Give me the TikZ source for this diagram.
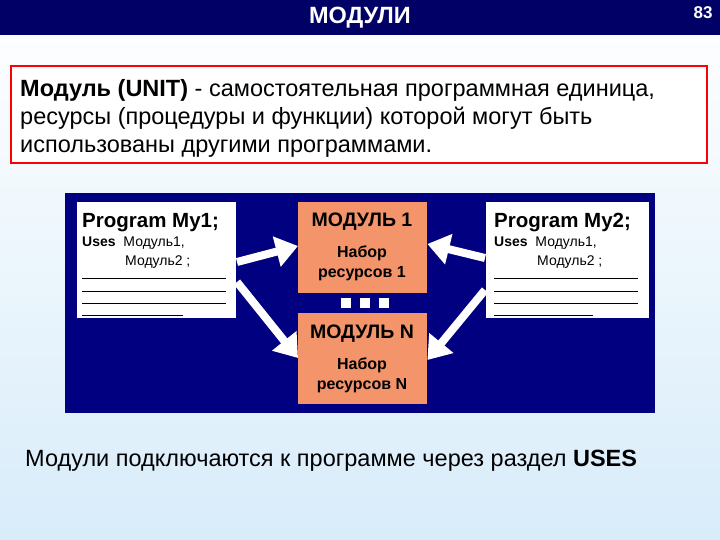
\documentclass[tikz,border=0pt]{standalone}
\usepackage{fontspec}
\setmainfont{Liberation Sans}
\usetikzlibrary{arrows.meta}
\definecolor{navy}{HTML}{000080}
\definecolor{bar}{HTML}{000066}
\definecolor{mod}{HTML}{F4946A}
\definecolor{bgb}{HTML}{D8ECFA}
\tikzset{
 prog/.style={fill=white,minimum width=159pt,minimum height=116pt,anchor=north west,inner sep=0},
 modbox/.style={fill=mod,minimum width=129pt,minimum height=91pt,anchor=north west,inner sep=0},
 big/.style={-{Triangle[length=22pt,width=30pt]},line width=8pt,white},
 t/.style={inner sep=0,anchor=base west},
 tc/.style={inner sep=0,anchor=base,font=\bfseries\fontsize{16}{18}\selectfont},
}
\begin{document}
\begin{tikzpicture}[x=1pt,y=-1pt]
\useasboundingbox (0,0) rectangle (720,540);
\shade[top color=white,bottom color=bgb] (0,0) rectangle (720,540);
\fill[bar] (0,0) rectangle (720,35);
\node[white,font=\bfseries\fontsize{23.5}{25}\selectfont] (title) at (360,18) {МОДУЛИ};
\node[white,font=\bfseries\fontsize{17}{19}\selectfont] (pg) at (703,13) {83};
\node[draw=red,line width=2pt,fill=white,minimum width=696pt,minimum height=97pt,anchor=north west] (def) at (10,65) {};
\node[t,font=\fontsize{23.5}{25}\selectfont] (l1) at (20,97) {\textbf{Модуль (UNIT)} - самостоятельная программная единица,};
\node[t,font=\fontsize{23.5}{25}\selectfont] (l2) at (20,125) {ресурсы (процедуры и функции) которой могут быть};
\node[t,font=\fontsize{23.5}{25}\selectfont] (l3) at (20,153) {использованы другими программами.};
\fill[navy] (65,193) rectangle (655,413);
\node[prog] (p1) at (77,202) {};
\node[prog,minimum width=163pt] (p2) at (486,202) {};
\node[modbox] (m1) at (298,202) {};
\node[modbox] (mn) at (298,313) {};
\foreach \x/\n in {341/a,360/b,379/c} \fill[white] (\x,298) rectangle +(10,10);
% program 1 text
\node[t,font=\bfseries\fontsize{20.5}{22}\selectfont] (p1t) at (82,227) {Program My1;};
\node[t,font=\fontsize{14}{16}\selectfont] (p1u) at (82,247) {\textbf{Uses}\ \ Модуль1,};
\node[t,font=\fontsize{14}{16}\selectfont] (p1v) at (125,265) {Модуль2 ;};
\foreach \y in {278,291,303} \draw (82,\y) -- (226,\y);
\draw (82,315) -- (183,315);
\node[t,font=\bfseries\fontsize{20.5}{22}\selectfont] (p2t) at (494,227) {Program My2;};
\node[t,font=\fontsize{14}{16}\selectfont] (p2u) at (494,247) {\textbf{Uses}\ \ Модуль1,};
\node[t,font=\fontsize{14}{16}\selectfont] (p2v) at (537,265) {Модуль2 ;};
\foreach \y in {278,291,303} \draw (494,\y) -- (638,\y);
\draw (494,315) -- (593,315);
% modules text
\node[tc,font=\bfseries\fontsize{19.5}{21}\selectfont] (m1t) at (362,226) {МОДУЛЬ 1};
\node[tc] (m1a) at (362,257) {Набор};
\node[tc] (m1b) at (362,277) {ресурсов 1};
\node[tc,font=\bfseries\fontsize{19.5}{21}\selectfont] (mnt) at (362,338) {МОДУЛЬ N};
\node[tc] (mna) at (362,369) {Набор};
\node[tc] (mnb) at (362,389) {ресурсов N};
% arrows
\coordinate (a1) at (237,262); \coordinate (a2) at (237,282);
\coordinate (b1) at (485,258); \coordinate (b2) at (485,290);
\draw[big] (a1) -- (m1.west|-0,246);
\draw[big] (a2) -- (mn.west|-0,358);
\draw[big] (b1) -- (m1.east|-0,244);
\draw[big] (b2) -- (mn.east|-0,360);
\node[t,font=\fontsize{23.5}{25}\selectfont] (bot) at (25,466) {Модули подключаются к программе через раздел \textbf{USES}};
\end{tikzpicture}
\end{document}
